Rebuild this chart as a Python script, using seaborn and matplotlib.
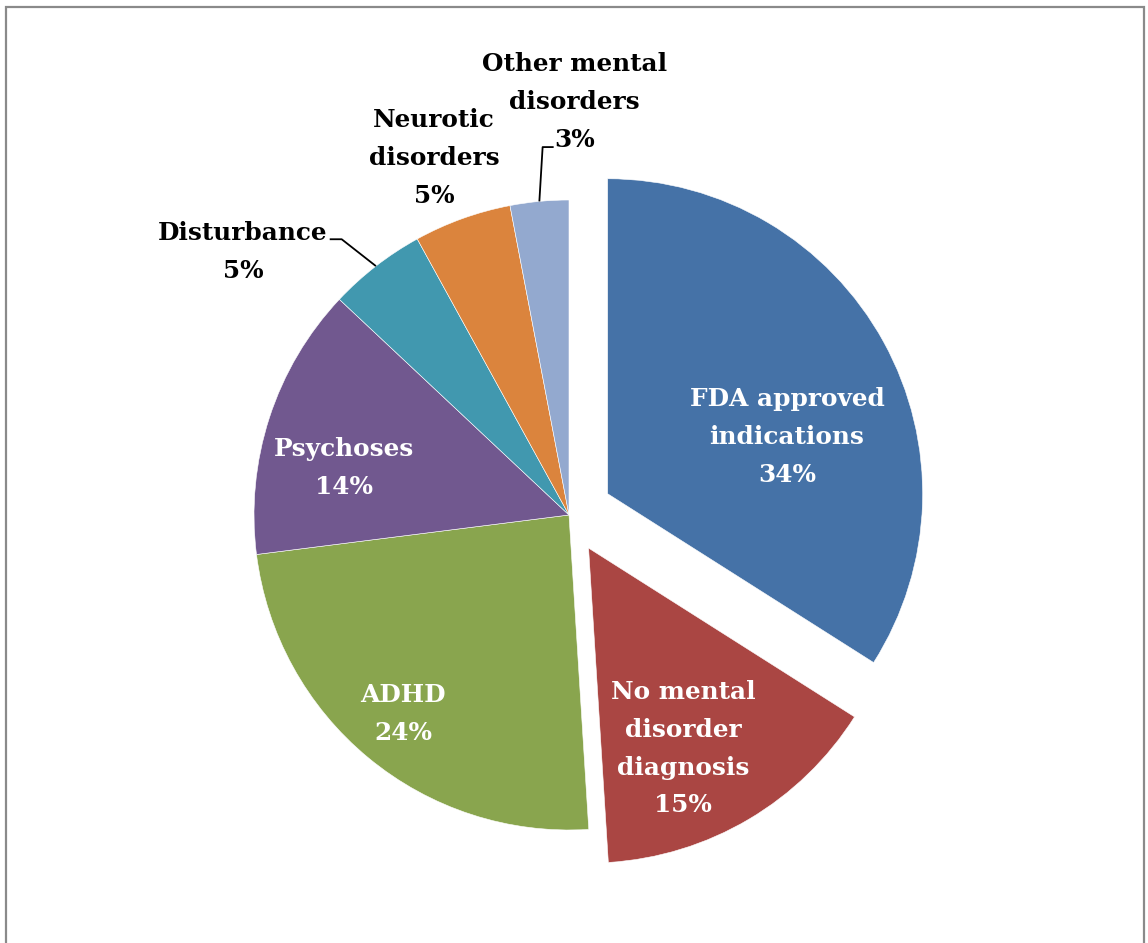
import numpy as np
import matplotlib
matplotlib.use("Agg")
import matplotlib.pyplot as plt
from matplotlib.patches import Rectangle
import seaborn as sns

# Off-label prescribing: share of prescriptions by indication
categories = ["FDA approved\nindications", "No mental\ndisorder\ndiagnosis", "ADHD",
              "Psychoses", "Disturbance", "Neurotic\ndisorders", "Other mental\ndisorders"]
shares = [34, 15, 24, 14, 5, 5, 3]
colors = ["#4572A7", "#AA4643", "#89A54E", "#71588F", "#4198AF", "#DB843D", "#93A9CF"]
explode = [0.14, 0.122, 0, 0, 0, 0, 0]

# label placement: (radius, angle in degrees) from the pie centre, inside/outside text
label_pos = [(0.735, 19.7), (0.826, -64.0), (0.823, 230.2), (0.730, 168.2),
             (1.330, 141.1), (1.212, 110.7), (1.311, 89.2)]
inside = [True, True, True, True, False, False, False]
# leader lines for small slices: elbow (radius, angle) and horizontal run
leaders = {4: (1.1345, 129.5, -0.038), 6: (1.171, 94.1, 0.035)}

sns.set_theme(style="white")
plt.rcParams["font.family"] = ["DejaVu Serif", "DejaVu Sans"]

W, H = 1148, 943
cx, cy, R = 569, 515, 315
fig = plt.figure(figsize=(W / 100, H / 100), dpi=100)
ax = fig.add_axes([0, 0, 1, 1])

wedges, _ = ax.pie(shares, colors=colors, explode=explode, startangle=90,
                   counterclock=False, radius=1.0,
                   wedgeprops=dict(edgecolor="white", linewidth=0.4))
ax.set_xlim(-cx / R, (W - cx) / R)
ax.set_ylim(-(H - cy) / R, cy / R)
ax.set_aspect("equal")
ax.axis("off")

total = sum(shares)
start = 90.0
for i, (cat, val) in enumerate(zip(categories, shares)):
    span = 360.0 * val / total
    mid = np.deg2rad(start - span / 2)
    start -= span
    r, a = label_pos[i]
    a = np.deg2rad(a)
    tx, ty = r * np.cos(a), r * np.sin(a)
    ax.text(tx, ty, f"{cat}\n{val}%", ha="center", va="center",
            fontsize=17.8, fontweight="bold", linespacing=1.72,
            color="white" if inside[i] else "black")
    if i in leaders:
        er, ea, run = leaders[i]
        ea = np.deg2rad(ea)
        ex, ey = er * np.cos(ea), er * np.sin(ea)
        px, py = np.cos(mid), np.sin(mid)
        ax.plot([px, ex, ex + run], [py, ey, ey], color="black", lw=1.3,
                solid_capstyle="butt")

# outer chart frame
fig.patches.append(Rectangle((6 / W, -0.05), 1138 / W, 1.05 - 7 / H,
                             transform=fig.transFigure, fill=False,
                             edgecolor="#8a8a8a", linewidth=1.6))

fig.savefig("out.png", dpi=100, facecolor="white")
